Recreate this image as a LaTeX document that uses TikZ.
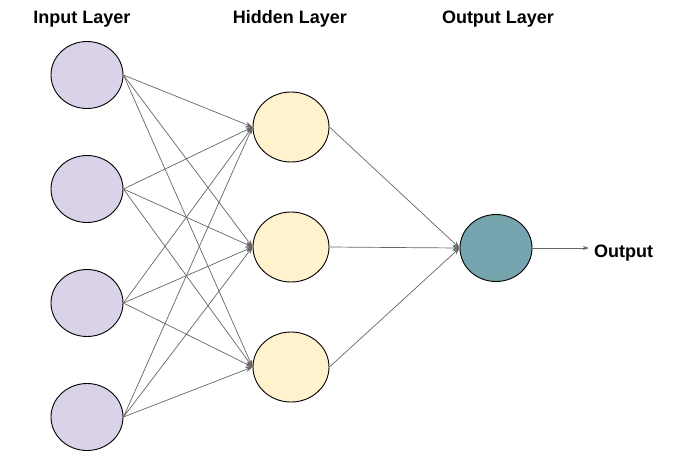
\documentclass[tikz,border=0pt]{standalone}
\usepackage{fontspec}
\setmainfont{Liberation Sans}
\usetikzlibrary{shapes.geometric,arrows.meta}
\definecolor{inpfill}{HTML}{D9D2E9}
\definecolor{hidfill}{HTML}{FFF2CC}
\definecolor{outfill}{HTML}{76A5AF}
\definecolor{edgegray}{HTML}{666666}
\tikzset{
  neuron/.style={ellipse,draw=black,line width=0.9pt,minimum width=72pt,minimum height=67pt,inner sep=0pt},
  inp/.style={neuron,fill=inpfill},
  hid/.style={neuron,fill=hidfill,minimum width=76pt,minimum height=70pt},
  outn/.style={neuron,fill=outfill},
  conn/.style={draw=edgegray,line width=0.7pt,-{Stealth[length=7pt,width=5pt]}},
  lab/.style={font=\fontsize{18}{20}\selectfont\bfseries,inner sep=0pt,anchor=base}
}
\begin{document}
\begin{tikzpicture}[x=1pt,y=-1pt]
\useasboundingbox (0,0) rectangle (680,459);
\node[lab] (tin) at (82,23) {Input Layer};
\node[lab] (thid) at (290,23) {Hidden Layer};
\node[lab] (tout) at (498,23) {Output Layer};
\node[inp] (i1) at (87,75) {};
\node[inp] (i2) at (87,189) {};
\node[inp] (i3) at (87,303) {};
\node[inp] (i4) at (87,417) {};
\node[hid] (h1) at (291,127) {};
\node[hid] (h2) at (291,247) {};
\node[hid] (h3) at (291,367) {};
\node[outn] (o) at (496,248) {};
\node[lab,anchor=base west] (otext) at (594,257) {Output};
\coordinate (oend) at (589,248);
\foreach \i in {1,2,3,4}{
  \foreach \h in {1,2,3}{
    \draw[conn] (i\i.east) -- (h\h.west);
  }
}
\foreach \h in {1,2,3}{
  \draw[conn] (h\h.east) -- (o.west);
}
\draw[conn,-{Stealth[length=6pt,width=4pt]}] (o.east) -- (oend);
\end{tikzpicture}
\end{document}
